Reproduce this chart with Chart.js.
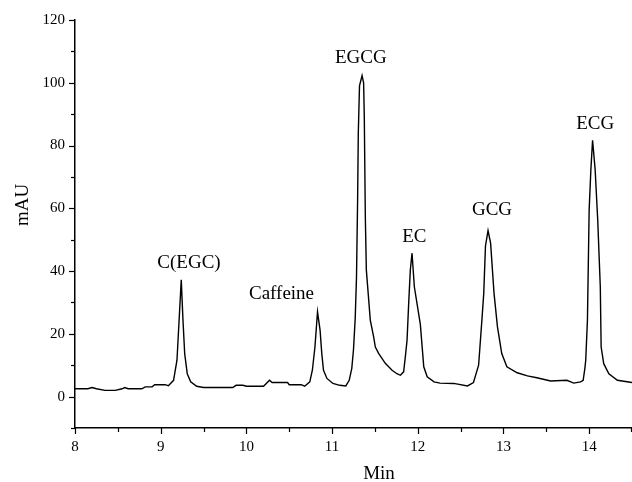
<!DOCTYPE html>
<html lang="en">

<head>
    <meta charset="UTF-8">
    <title>Chromatogram</title>
    <style>
        html,
        body {
            margin: 0;
            padding: 0;
            background: #fff;
        }

        .chart-container {
            width: 632px;
            height: 482px;
        }
    </style>
</head>

<body>
    <div class="chart-container">
        <canvas id="hplcChart"></canvas>
    </div>
</body>

<script src="https://cdn.jsdelivr.net/npm/chart.js@4.4.6/dist/chart.umd.min.js"></script>
<script>
    // retention time (min) and absorbance (mAU)
    const retentionTimes = [
        8.00, 8.15, 8.20, 8.25, 8.35, 8.47, 8.55, 8.58, 8.62, 8.78, 8.82, 8.90, 8.93, 9.05, 9.09,
        9.15, 9.19, 9.215, 9.24, 9.26, 9.28, 9.31, 9.35, 9.42, 9.50, 9.84, 9.88, 9.96, 10.00, 10.20,
        10.27, 10.30, 10.48, 10.50, 10.64, 10.68, 10.74, 10.77, 10.80, 10.83, 10.86, 10.88, 10.90, 10.94,
        11.01, 11.09, 11.16, 11.20, 11.23, 11.25, 11.27, 11.285, 11.298, 11.306, 11.32, 11.35, 11.368,
        11.376, 11.388, 11.40, 11.446, 11.485, 11.505, 11.543, 11.621, 11.70, 11.757, 11.797, 11.835,
        11.855, 11.875, 11.894, 11.913, 11.933, 11.96, 12.03, 12.07, 12.11, 12.19, 12.26, 12.42, 12.58,
        12.65, 12.71, 12.75, 12.77, 12.79, 12.82, 12.85, 12.89, 12.93, 12.98, 13.04, 13.16, 13.28, 13.39,
        13.55, 13.74, 13.82, 13.90, 13.93, 13.95, 13.96, 13.98, 14.00, 14.02, 14.04, 14.07, 14.10, 14.13,
        14.14, 14.17, 14.23, 14.33, 14.50
    ];
    const absorbance = [
        2.5, 2.5, 2.9, 2.5, 2.0, 2.0, 2.5, 2.9, 2.5, 2.5, 3.1, 3.1, 3.8, 3.8, 3.5,
        5.2, 11.6, 24.4, 37.2, 24.4, 13.7, 7.3, 4.7, 3.3, 2.9, 2.9, 3.6, 3.6, 3.3, 3.3,
        5.2, 4.5, 4.5, 3.8, 3.8, 3.3, 4.7, 8.4, 15.8, 27.0, 21.2, 13.7, 8.4, 5.8,
        4.2, 3.6, 3.4, 5.2, 9.0, 15.0, 25.0, 38.0, 62.7, 84.0, 99.0, 102.3, 100.0,
        89.2, 57.3, 40.3, 24.4, 19.0, 15.8, 13.8, 10.6, 8.4, 7.3, 6.8, 7.9,
        12.7, 18.0, 29.7, 40.3, 45.7, 35.0, 23.0, 9.5, 6.3, 4.7, 4.3, 4.2, 3.4,
        4.5, 10.0, 25.0, 32.9, 48.0, 52.9, 48.9, 32.9, 22.2, 13.7, 9.5, 7.6, 6.6, 6.0,
        5.0, 5.2, 4.3, 4.7, 5.2, 9.0, 11.6, 24.4, 59.5, 72.3, 81.7, 72.3, 56.3, 35.0,
        15.8, 10.5, 7.3, 5.2, 4.5
    ];

    // peak annotations (text, anchored at data coordinates)
    const peakNames = ['C(EGC)', 'Caffeine', 'EGCG', 'EC', 'GCG', 'ECG'];
    const peakLabelTimes = [9.33, 10.41, 11.335, 11.96, 12.866, 14.07];
    const peakLabelValues = [42.6, 32.7, 107.8, 50.7, 59.5, 86.7];

    const xTicks = [8, 8.5, 9, 9.5, 10, 10.5, 11, 11.5, 12, 12.5, 13, 13.5, 14, 14.5];
    const yTicks = [-10, 0, 10, 20, 30, 40, 50, 60, 70, 80, 90, 100, 110, 120];

    const serif = "'Liberation Serif', 'Times New Roman', serif";

    const decorations = {
        id: 'decorations',
        afterDraw(chart) {
            const { ctx, chartArea, scales: { x, y } } = chart;
            ctx.save();
            ctx.strokeStyle = '#000';
            ctx.lineWidth = 1.2;
            // outward tick marks, longer on labelled values
            xTicks.forEach(v => {
                const px = Math.min(Math.round(x.getPixelForValue(v)) + 0.5, chartArea.right - 0.5);
                const len = Number.isInteger(v) ? 6 : 4;
                ctx.beginPath();
                ctx.moveTo(px, chartArea.bottom);
                ctx.lineTo(px, chartArea.bottom + len);
                ctx.stroke();
            });
            yTicks.forEach(v => {
                const py = Math.round(y.getPixelForValue(v)) + 0.5;
                const len = v % 20 === 0 ? 6 : 4;
                ctx.beginPath();
                ctx.moveTo(chartArea.left, py);
                ctx.lineTo(chartArea.left - len, py);
                ctx.stroke();
            });

            ctx.fillStyle = '#000';
            ctx.textAlign = 'center';
            ctx.textBaseline = 'middle';
            ctx.font = '19px ' + serif;
            peakNames.forEach((name, i) => {
                ctx.fillText(name, x.getPixelForValue(peakLabelTimes[i]), y.getPixelForValue(peakLabelValues[i]));
            });

            // axis titles
            ctx.fillText('Min', chartArea.left + 304, chartArea.bottom + 46);
            ctx.translate(chartArea.left - 52, chartArea.top + 185);
            ctx.rotate(-Math.PI / 2);
            ctx.fillText('mAU', 0, 0);
            ctx.restore();
        }
    };

    const hplcChart = document.getElementById('hplcChart');
    const chart = new Chart(hplcChart, {
        type: 'line',
        data: {
            datasets: [{
                label: 'Absorbance',
                data: retentionTimes.map((t, i) => ({ x: t, y: absorbance[i] })),
                borderColor: '#000',
                borderWidth: 1.4,
                pointRadius: 0,
                tension: 0,
                fill: false,
            }]
        },
        options: {
            animation: false,
            responsive: true,
            maintainAspectRatio: false,
            layout: { padding: { top: 20, right: 0, left: 0, bottom: 0 } },
            scales: {
                x: {
                    type: 'linear',
                    min: 8,
                    max: 14.5,
                    afterBuildTicks: (scale) => { scale.ticks = xTicks.map(v => ({ value: v })); },
                    afterFit: (scale) => {
                        scale.height = 54;
                        scale.paddingRight = 0;
                    },
                    ticks: {
                        color: '#000',
                        font: { family: serif, size: 15 },
                        padding: 10,
                        maxRotation: 0,
                        autoSkip: false,
                        callback: (v) => Number.isInteger(v) ? v : '',
                    },
                    grid: { display: false, drawTicks: false },
                    border: { display: true, color: '#000', width: 1.5 },
                },
                y: {
                    min: -10,
                    max: 120,
                    afterBuildTicks: (scale) => { scale.ticks = yTicks.map(v => ({ value: v })); },
                    afterFit: (scale) => { scale.width = 75; },
                    ticks: {
                        color: '#000',
                        font: { family: serif, size: 15 },
                        padding: 10,
                        autoSkip: false,
                        callback: (v) => (v >= 0 && v % 20 === 0) ? v : '',
                    },
                    grid: { display: false, drawTicks: false },
                    border: { display: true, color: '#000', width: 1.5 },
                }
            },
            plugins: {
                legend: { display: false },
                tooltip: { enabled: false },
            },
        },
        plugins: [decorations],
    });
</script>

</html>
